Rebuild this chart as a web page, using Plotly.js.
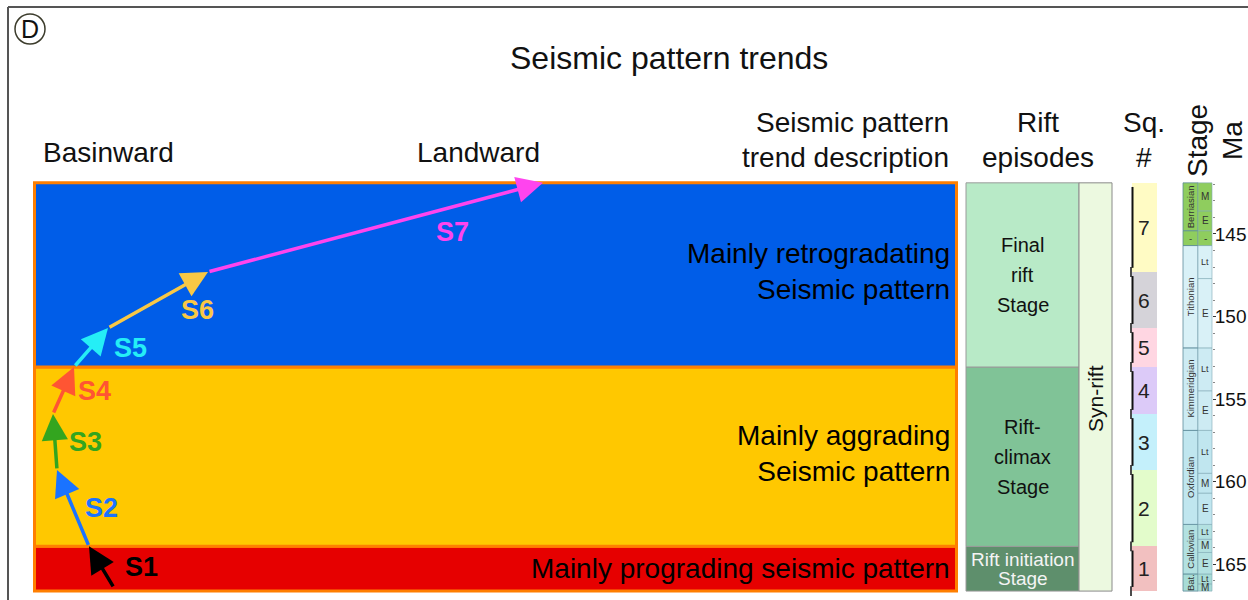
<!DOCTYPE html>
<html><head><meta charset="utf-8">
<script src="https://cdn.plot.ly/plotly-3.0.1.min.js"></script>
<style>html,body{margin:0;padding:0;background:#fff;overflow:hidden}#chart{width:1248px;height:600px}</style>
</head><body><div id="chart"></div>
<script>
// ---------------- DATA ----------------
// Depositional sequences (Sq. #), ages in Ma
const sequenceNames  = ['1','2','3','4','5','6','7'];
const sequenceBaseMa = [166.64, 163.93, 159.30, 155.91, 153.06, 150.70, 147.30];
const sequenceTopMa  = [163.93, 159.30, 155.91, 153.06, 150.70, 147.30, 141.90];

// Seismic pattern trends S1..S7 (landward shift of the shelf edge, arbitrary units)
const trendNames      = ['S1','S2','S3','S4','S5','S6','S7'];
const trendStartMa    = 166.45;
const trendStartShift = 114;
const trendEndShift   = [89, 57, 53, 74, 108, 208, 543];

// Seismic pattern trend description
const patternNames  = ['Mainly prograding seismic pattern', 'Mainly aggrading<br>Seismic pattern', 'Mainly retrogradating<br>Seismic pattern'];
const patternBaseMa = [166.64, 163.93, 153.06];
const patternTopMa  = [163.93, 153.06, 141.90];

// Rift episodes
const riftNames  = ['Rift initiation<br>Stage', 'Rift-<br>climax<br>Stage', 'Final<br>rift<br>Stage'];
const riftBaseMa = [166.64, 163.93, 153.06];
const riftTopMa  = [163.93, 153.06, 141.90];
const phaseNames  = ['Syn-rift'];
const phaseBaseMa = [166.64];
const phaseTopMa  = [141.90];

// Chronostratigraphy
const stageNames  = ['Bat.', 'Callovian', 'Oxfordian', 'Kimmeridgian', 'Tithonian', '-', 'Berriasian'];
const stageBaseMa = [166.64, 165.6, 162.6, 156.9, 151.9, 145.7, 144.8];
const stageTopMa  = [165.6, 162.6, 156.9, 151.9, 145.7, 144.8, 141.9];
const substageNames  = ['M','Lt','E','M','Lt','E','M','Lt','E','Lt','E','Lt','-','E','M'];
const substageStage  = [0,0,1,1,1,2,2,2,3,3,4,4,5,6,6];
const substageBaseMa = [166.64,166.2,165.6,164.3,163.5,162.6,160.7,159.5,156.9,154.5,151.9,147.7,145.7,144.8,143.6];
const substageTopMa  = [166.2,165.6,164.3,163.5,162.6,160.7,159.5,156.9,154.5,151.9,147.7,145.7,144.8,143.6,141.9];
const maTicks = [145, 150, 155, 160, 165];

// ---------------- STYLE / LAYOUT ----------------
const W = 1248, H = 600;
const FONT = 'Liberation Sans, Arial, Helvetica, sans-serif';
const yRange = [167.18, 130.82];            // reversed age axis
const sequenceColors = ['#f2c0c0','#e3fccb','#c4f0fb','#dccaf8','#ffd6e2','#d5d3d9','#fffbc4'];
const patternColors  = ['#e60000','#ffc800','#005de8'];
const riftColors     = ['#5e8f6c','#80c397','#b8eac7'];
const riftTextColors = ['#f4f4f4','#111','#111'];
const stageColors    = ['#a8dcd6','#b3e1e1','#c0e6ef','#cdebf3','#d9f1f7','#8fcd5e','#8fcd5e'];
const trendColors    = ['#000000','#1a73ff','#33a51f','#ff5533','#25eef6','#f9c845','#ff44ee'];
const labelShift     = [[40,0],[28,0],[30,0],[31,0],[39,0],[39,-10],[77,-5]];

const col = {
  pattern:  {c: 495.5, w: 922},
  rift:     {c: 1022.5, w: 113},
  phase:    {c: 1095.5, w: 33},
  seq:      {c: 1144.5, w: 25},
  stage:    {c: 1190.5, w: 15},
  substage: {c: 1205, w: 14}
};

function bars(c, w, base, top, colors, lc, lw) {
  return {type: 'bar', x: base.map(() => c), base: top, y: base.map((b, i) => b - top[i]),
          width: w, marker: {color: colors, line: {color: lc, width: lw}},
          hoverinfo: 'skip', showlegend: false, xaxis: 'x', yaxis: 'y'};
}
const mid = (a, b) => (a + b) / 2;
const px = x => x / W, py = y => 1 - y / H;

const traces = [
  bars(col.pattern.c, col.pattern.w, patternBaseMa, patternTopMa, patternColors, '#ff7f00', 3),
  bars(col.rift.c, col.rift.w, riftBaseMa, riftTopMa, riftColors, '#9a9a9a', 1),
  bars(col.phase.c, col.phase.w, phaseBaseMa, phaseTopMa, ['#ecf9e0'], '#8a8a8a', 1),
  bars(col.seq.c, col.seq.w, sequenceBaseMa, sequenceTopMa, sequenceColors, 'rgba(0,0,0,0)', 0),
  bars(col.stage.c, col.stage.w, stageBaseMa, stageTopMa, stageColors, '#5d8c99', 0.8),
  bars(col.substage.c, col.substage.w, substageBaseMa, substageTopMa, substageStage.map(i => stageColors[i]), '#7fa9b5', 0.6),
  {type: 'scatter', x: [col.substage.c], y: [155], yaxis: 'y2', mode: 'markers',
   marker: {opacity: 0}, hoverinfo: 'skip', showlegend: false}
];

const ann = [];
const txt = (x, y, text, size, opt) => Object.assign({xref: 'paper', yref: 'paper', x: px(x), y: py(y),
  text: text, showarrow: false, font: {family: FONT, size: size, color: '#111'},
  xanchor: 'center', yanchor: 'middle'}, opt || {});

// titles / headers
ann.push(txt(30, 29, 'D', 25));
ann.push(txt(669, 58, 'Seismic pattern trends', 32));
ann.push(txt(41, 152, 'Basinward', 28, {xanchor: 'left'}));
ann.push(txt(478, 152, 'Landward', 28));
ann.push(txt(951, 122, 'Seismic pattern', 28, {xanchor: 'right'}));
ann.push(txt(951, 157, 'trend description', 28, {xanchor: 'right'}));
ann.push(txt(1038, 122, 'Rift', 28));
ann.push(txt(1038, 157, 'episodes', 28));
ann.push(txt(1144, 122, 'Sq.', 28));
ann.push(txt(1144, 157, '#', 28));
ann.push(txt(1197, 141, 'Stage', 28, {textangle: -90}));
ann.push(txt(1232, 141, 'Ma', 28, {textangle: -90}));

// pattern descriptions
patternNames.forEach((t, i) => ann.push({xref: 'x', yref: 'y', x: 952, y: mid(patternBaseMa[i], patternTopMa[i]) + (i === 0 ? 0 : -0.2),
  text: t, showarrow: false, xanchor: 'right', yanchor: 'middle', align: 'right',
  font: {family: FONT, size: 28, color: '#000'}}));

// rift episodes
riftNames.forEach((t, i) => {
  const lines = t.split('<br>');
  const yc = mid(riftBaseMa[i], riftTopMa[i]);
  const sp = i === 0 ? 19 : 30;
  lines.forEach((l, k) => ann.push({xref: 'x', yref: 'y', x: col.rift.c, y: yc, yshift: -(k - (lines.length - 1) / 2) * sp,
    text: l, showarrow: false, borderpad: 0, font: {family: FONT, size: i === 0 ? 19 : 20, color: riftTextColors[i]}}));
});
phaseNames.forEach((t, i) => ann.push({xref: 'x', yref: 'y', x: col.phase.c, y: mid(phaseBaseMa[i], phaseTopMa[i]) + 0.7,
  text: t, showarrow: false, textangle: -90, font: {family: FONT, size: 21, color: '#111'}}));

// sequences
sequenceNames.forEach((t, i) => ann.push({xref: 'x', yref: 'y', x: col.seq.c - 1, y: mid(sequenceBaseMa[i], sequenceTopMa[i]),
  text: t, showarrow: false, font: {family: FONT, size: 21, color: '#222'}}));

// stages
stageNames.forEach((t, i) => ann.push({xref: 'x', yref: 'y', x: col.stage.c, y: mid(stageBaseMa[i], stageTopMa[i]),
  text: t, showarrow: false, textangle: t === '-' ? 0 : -90, font: {family: FONT, size: 9.5, color: '#333'}}));
substageNames.forEach((t, i) => ann.push({xref: 'x', yref: 'y', x: col.substage.c, y: mid(substageBaseMa[i], substageTopMa[i]),
  text: t, showarrow: false, font: {family: FONT, size: t === 'Lt' ? 9 : 10, color: '#333'}}));

// trend arrows
const shifts = [trendStartShift].concat(trendEndShift);
const ages = [trendStartMa].concat(sequenceTopMa);
trendNames.forEach((t, i) => {
  ann.push({xref: 'x', yref: 'y', axref: 'x', ayref: 'y', x: shifts[i + 1], y: ages[i + 1], ax: shifts[i], ay: ages[i],
    text: '', showarrow: true, arrowhead: 2, arrowsize: 1.5, arrowwidth: 3.5, arrowcolor: trendColors[i], standoff: 0});
  ann.push({xref: 'x', yref: 'y', x: mid(shifts[i], shifts[i + 1]), y: mid(ages[i], ages[i + 1]),
    xshift: labelShift[i][0], yshift: labelShift[i][1], text: '<b>' + t + '</b>', showarrow: false,
    font: {family: FONT, size: 27, color: trendColors[i]}});
});

// shapes
const shapes = [
  {type: 'line', xref: 'paper', yref: 'paper', x0: px(8), x1: 1, y0: py(7), y1: py(7), line: {color: '#555', width: 2}},
  {type: 'line', xref: 'paper', yref: 'paper', x0: px(8), x1: px(8), y0: py(7), y1: 0, line: {color: '#555', width: 2}},
  {type: 'circle', xref: 'paper', yref: 'paper', x0: px(15), x1: px(45), y0: py(14), y1: py(44), line: {color: '#3c3c2c', width: 1.5}}
];
// boundary marks left of the sequence column
sequenceBaseMa.forEach((b, i) => {
  shapes.push({type: 'line', xref: 'x', yref: 'y', x0: 1132.5, x1: 1132.5, y0: sequenceTopMa[i] + 0.25, y1: b - 0.25, line: {color: '#111', width: 2}});
  shapes.push({type: 'line', xref: 'x', yref: 'y', x0: 1131, x1: 1131, y0: b - 0.3, y1: b + 0.3, line: {color: '#111', width: 1.5}});
});

// minor Ma ticks only along the stage column
const minorTicks = [];
for (let m = Math.ceil(stageTopMa[stageTopMa.length - 1]); m <= Math.floor(stageBaseMa[0]); m++) minorTicks.push(m);

const layout = {
  width: W, height: H, margin: {l: 0, r: 0, t: 0, b: 0}, paper_bgcolor: '#fff', plot_bgcolor: 'rgba(0,0,0,0)',
  barmode: 'overlay', bargap: 0, showlegend: false,
  xaxis: {range: [0, W], visible: false, fixedrange: true},
  yaxis: {range: yRange, visible: false, fixedrange: true},
  yaxis2: {range: yRange, overlaying: 'y', anchor: 'free', position: 1212 / W, side: 'right',
    tickmode: 'array', tickvals: maTicks, ticks: 'outside', ticklen: 3, tickwidth: 1, tickcolor: '#333',
    ticklabelstandoff: -5,
    showgrid: false, zeroline: false, showline: false,
    tickfont: {family: FONT, size: 19, color: '#111'},
    minor: {tickmode: 'array', tickvals: minorTicks, ticks: 'outside', ticklen: 2, tickcolor: '#888'}},
  annotations: ann, shapes: shapes, font: {family: FONT}
};

Plotly.newPlot('chart', traces, layout, {staticPlot: true, displayModeBar: false});
</script></body></html>
